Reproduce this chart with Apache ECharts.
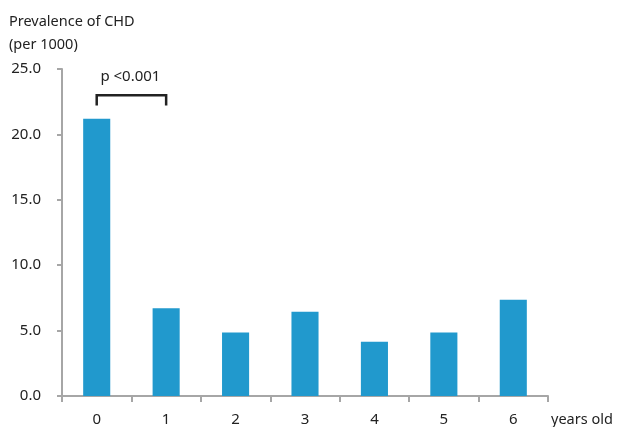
<!DOCTYPE html>
<html><head><meta charset="utf-8">
<script src="https://cdn.jsdelivr.net/npm/echarts@6/dist/echarts.min.js"></script>
<style>html,body{margin:0;padding:0;background:#fff}#c{width:619px;height:427px}</style>
</head><body><div id="c"></div>
<script>
var categories = ['0','1','2','3','4','5','6'];
var prevalence = [21.2, 6.7, 4.85, 6.45, 4.15, 4.85, 7.35];
var yTicks = [0, 5, 10, 15, 20, 25];
var pLabel = 'p <0.001';

var chart = echarts.init(document.getElementById('c'));
var font = 'Noto Sans';
var axisColor = '#a6a6a6';
chart.setOption({
  animation: false,
  textStyle: {fontFamily: font},
  grid: {left: 62, right: 71, top: 69, bottom: 31, containLabel: false},
  title: {text: 'Prevalence of CHD\n(per 1000)', left: 4, top: 5,
    textStyle: {fontFamily: font, fontSize: 14.5, fontWeight: 'normal', color: '#222', lineHeight: 23}},
  xAxis: {type: 'category', data: categories,
    axisLine: {lineStyle: {color: axisColor, width: 2}},
    axisTick: {show: true, length: 6, lineStyle: {color: axisColor, width: 2}},
    axisLabel: {color: '#222', fontSize: 15, margin: 16},
    name: 'years old', nameLocation: 'end', nameGap: 3,
    nameTextStyle: {color: '#222', fontSize: 14.5, verticalAlign: 'top', padding: [16, 0, 0, 0]}
  },
  yAxis: {type: 'value', min: 0, max: 25, interval: 5,
    axisLine: {show: true, lineStyle: {color: axisColor, width: 2}},
    axisTick: {show: true, length: 5, lineStyle: {color: axisColor, width: 2}},
    splitLine: {show: false},
    axisLabel: {color: '#222', fontSize: 15, margin: 21, formatter: function (v) { return v.toFixed(1); }}
  },
  series: [{type: 'bar', data: prevalence, barWidth: '39%', itemStyle: {color: '#2199CD'}}]
});

var p0 = chart.convertToPixel({xAxisIndex: 0, yAxisIndex: 0}, [0, 23.0]);
var p1 = chart.convertToPixel({xAxisIndex: 0, yAxisIndex: 0}, [1, 23.0]);
var legBottom = chart.convertToPixel({yAxisIndex: 0}, 22.2);
chart.setOption({graphic: [
  {type: 'polyline', shape: {points: [[p0[0], legBottom], [p0[0], p0[1]], [p1[0], p1[1]], [p1[0], legBottom]]},
   style: {stroke: '#222', lineWidth: 2.5, fill: null}},
  {type: 'text', x: (p0[0] + p1[0]) / 2 - 1, y: p0[1] - 26,
   style: {text: pLabel, fill: '#222', font: '15px "Noto Sans"', align: 'center', verticalAlign: 'top'}}
]});
</script></body></html>
